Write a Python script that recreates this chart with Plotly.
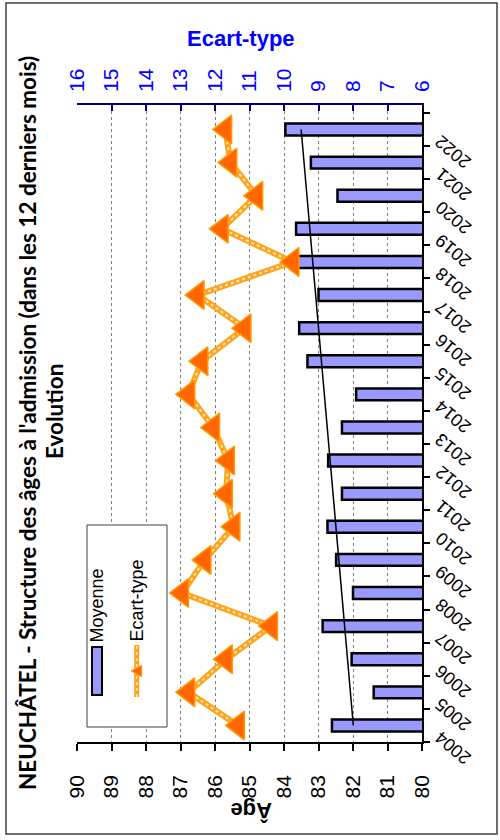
import numpy as np
import plotly.graph_objects as go

# ---------------- data ----------------
years = ["2004", "2005", "2006", "2007", "2008", "2009", "2010", "2011", "2012", "2013",
         "2014", "2015", "2016", "2017", "2018", "2019", "2020", "2021", "2022"]
moyenne = [82.61, 81.40, 82.04, 82.88, 82.00, 82.49, 82.74, 82.32, 82.72, 82.32,
           81.91, 83.32, 83.56, 83.00, 83.60, 83.65, 82.45, 83.22, 83.96]
ecart = [11.33, 12.77, 11.68, 10.37, 12.95, 12.30, 11.46, 11.68, 11.62, 12.05,
         12.77, 12.39, 11.14, 12.50, 9.75, 11.80, 10.80, 11.55, 11.70]
age_ticks = [90, 89, 88, 87, 86, 85, 84, 83, 82, 81, 80]
sd_ticks = [16, 15, 14, 13, 12, 11, 10, 9, 8, 7, 6]

title_text = "NEUCHÂTEL - Structure des âges à l'admission (dans les 12 derniers mois)"
subtitle_text = "Evolution"

# ---------------- geometry helpers ----------------
W, H = 500, 840
L, R, T, B = 77, 78, 105, 98
PW = W - L - R
PH = H - T - B


def X(px):
    return (px - L) / PW


def Y(py):
    return (H - B - py) / PH


# linear trendline (as Excel does) from the data
idx = np.arange(len(moyenne))
coef = np.polyfit(idx, moyenne, 1)
trend = np.polyval(coef, [idx[0], idx[-1]])

BAR_FILL = "#9999FF"
ORANGE_LINE = "#FFA31A"
ORANGE_MARK = "#FF6600"
BLUE = "#0000FF"
NAVY = "#000080"
AX_FONT = "Liberation Sans, Arial, sans-serif"
TITLE_FONT = "Lato, Open Sans, sans-serif"

fig = go.Figure()
fig.add_trace(go.Bar(
    x=moyenne, y=years, orientation="h", width=0.36,
    marker=dict(color=BAR_FILL, line=dict(color="black", width=2.5)),
    xaxis="x", yaxis="y", showlegend=False))
fig.add_trace(go.Scatter(
    x=trend, y=[years[0], years[-1]], mode="lines",
    line=dict(color="black", width=1.5), xaxis="x", yaxis="y", showlegend=False))
fig.add_trace(go.Scatter(
    x=ecart, y=years, mode="lines", line=dict(color=ORANGE_LINE, width=6),
    xaxis="x2", yaxis="y", showlegend=False))
fig.add_trace(go.Scatter(
    x=ecart, y=years, mode="lines",
    line=dict(color="rgba(255,238,205,0.9)", width=2, dash="dot"),
    xaxis="x2", yaxis="y", showlegend=False))
fig.add_trace(go.Scatter(
    x=ecart, y=years, mode="markers",
    marker=dict(symbol="triangle-left", size=25, color=ORANGE_MARK,
                line=dict(color="#FF9900", width=1.5)),
    xaxis="x2", yaxis="y", showlegend=False))

fig.update_layout(
    template="none",
    width=W, height=H,
    margin=dict(l=L, r=R, t=T, b=B, pad=0),
    paper_bgcolor="white", plot_bgcolor="white",
    showlegend=False,
    xaxis=dict(
        range=[90, 80], tickmode="array", tickvals=age_ticks,
        ticktext=[str(v) for v in age_ticks], tickangle=-90,
        ticks="outside", ticklen=7, tickwidth=1.5, tickcolor="black",
        showline=True, linecolor="black", linewidth=1.5, mirror=False,
        showgrid=True, gridcolor="#7f7f7f", griddash="dot", gridwidth=1,
        zeroline=False, automargin=False, ticklabelstandoff=16,
        tickfont=dict(family=AX_FONT, size=21, color="black")),
    xaxis2=dict(
        overlaying="x", side="top", anchor="y",
        range=[16, 6], tickmode="array", tickvals=sd_ticks,
        ticktext=[str(v) for v in sd_ticks], tickangle=-90,
        ticks="inside", ticklen=6, tickwidth=1.5, tickcolor=NAVY,
        showline=True, linecolor=NAVY, linewidth=1.5,
        showgrid=False, zeroline=False, automargin=False, ticklabelstandoff=7,
        tickfont=dict(family=AX_FONT, size=21, color=BLUE)),
    yaxis=dict(
        type="category", categoryorder="array", categoryarray=years,
        range=[-0.5, 18.74], side="right", tickson="boundaries",
        ticks="outside", ticklen=6, tickwidth=1.5, tickcolor="black",
        showline=True, linecolor="black", linewidth=1.5,
        showgrid=False, zeroline=False, automargin=False,
        showticklabels=False),
)

annotations = [
    dict(text="<b>" + title_text + "</b>", x=X(27), y=Y(423), xref="paper", yref="paper",
         textangle=-90, showarrow=False, xanchor="center", yanchor="middle",
         font=dict(family=TITLE_FONT, size=22.5, color="black")),
    dict(text="<b>" + subtitle_text + "</b>", x=X(54), y=Y(412), xref="paper", yref="paper",
         textangle=-90, showarrow=False, xanchor="center", yanchor="middle",
         font=dict(family=TITLE_FONT, size=22.5, color="black")),
    dict(text="<b>Ecart-type</b>", x=X(241), y=Y(38), xref="paper", yref="paper",
         showarrow=False, xanchor="center", yanchor="middle",
         font=dict(family=AX_FONT, size=22, color=BLUE)),
    dict(text="<b>Âge</b>", x=X(251), y=Y(811), xref="paper", yref="paper",
         textangle=180, showarrow=False, xanchor="center", yanchor="middle",
         font=dict(family=AX_FONT, size=22, color="black")),
    dict(text="Moyenne", x=X(96.5), y=Y(606), xref="paper", yref="paper",
         textangle=-90, showarrow=False, xanchor="center", yanchor="middle",
         font=dict(family=AX_FONT, size=18, color="black")),
    dict(text="Ecart-type", x=X(136.5), y=Y(601), xref="paper", yref="paper",
         textangle=-90, showarrow=False, xanchor="center", yanchor="middle",
         font=dict(family=AX_FONT, size=18, color="black")),
]

# category (year) labels, rotated like the reference (reading upwards-left)
for i, yr in enumerate(years):
    annotations.append(dict(
        text=yr, x=X(430), y=i, xref="paper", yref="y",
        textangle=-140, showarrow=False, xanchor="left", yanchor="top",
        borderpad=0, font=dict(family=AX_FONT, size=18, color="black")))

tri_cx, tri_cy = 136.7, 671
tri_path = "M {:.4f},{:.4f} L {:.4f},{:.4f} L {:.4f},{:.4f} Z".format(
    X(tri_cx - 5.5), Y(tri_cy), X(tri_cx + 5), Y(tri_cy - 5.5), X(tri_cx + 5), Y(tri_cy + 5.5))

shapes = [
    # outer frame
    dict(type="rect", xref="paper", yref="paper", x0=X(6), x1=X(497), y0=Y(834), y1=Y(3),
         line=dict(color="#404040", width=1.5), fillcolor="rgba(0,0,0,0)", layer="above"),
    # legend box
    dict(type="rect", xref="paper", yref="paper", x0=X(87), x1=X(167), y0=Y(727), y1=Y(525),
         line=dict(color="#404040", width=1), fillcolor="white", layer="above"),
    # legend bar swatch
    dict(type="rect", xref="paper", yref="paper", x0=X(92), x1=X(102), y0=Y(695), y1=Y(647),
         line=dict(color="black", width=2), fillcolor=BAR_FILL, layer="above"),
    # legend line swatch
    dict(type="line", xref="paper", yref="paper", x0=X(136.7), x1=X(136.7), y0=Y(697), y1=Y(645),
         line=dict(color=ORANGE_LINE, width=5), layer="above"),
    dict(type="line", xref="paper", yref="paper", x0=X(136.7), x1=X(136.7), y0=Y(697), y1=Y(645),
         line=dict(color="rgba(255,238,205,0.9)", width=1.5, dash="dot"), layer="above"),
    dict(type="path", xref="paper", yref="paper", path=tri_path,
         fillcolor=ORANGE_MARK, line=dict(color="#FF9900", width=1), layer="above"),
]

fig.update_layout(annotations=annotations, shapes=shapes)

fig.write_html("out.html", config={"displayModeBar": False},
               post_script="document.body.style.margin='0px';")
